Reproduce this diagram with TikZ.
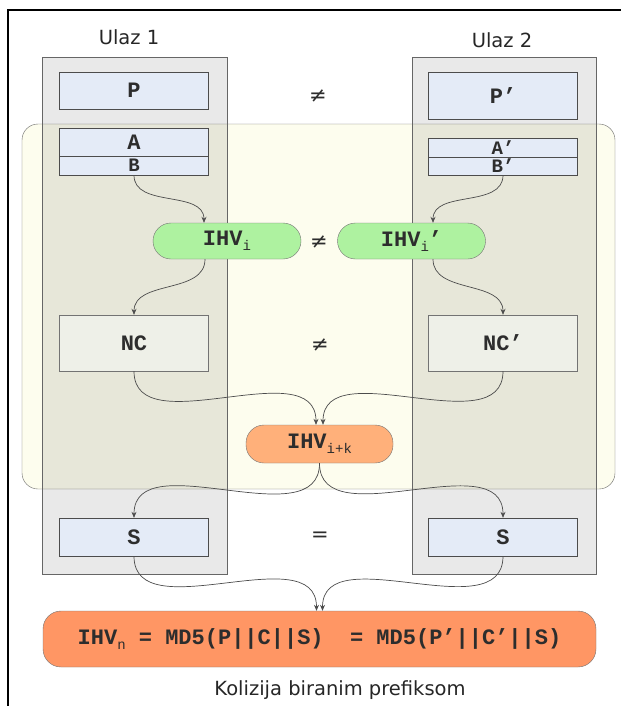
\documentclass[tikz,border=0pt]{standalone}
\usepackage{fontspec}
\setmainfont{DejaVu Sans}
\newfontfamily\monofnt{Liberation Mono}
\usetikzlibrary{arrows.meta}

\definecolor{creamfill}{RGB}{253,253,238}
\definecolor{msgfill}{RGB}{228,235,247}
\definecolor{ncfill}{RGB}{238,240,232}
\definecolor{ihvgreen}{RGB}{174,242,160}
\definecolor{ihvorange}{RGB}{255,176,122}
\definecolor{endorange}{RGB}{255,150,100}
\definecolor{inktext}{RGB}{45,45,45}

\newcommand{\lowidx}[1]{\raisebox{-0.22em}{\fontsize{14}{14}\selectfont\mdseries #1}}

\tikzset{
  zonebox/.style={draw=black!60, fill=creamfill, rounded corners=16pt, inner sep=0pt},
  colbox/.style={draw=black!60, fill=black, fill opacity=0.085, inner sep=0pt},
  msgbox/.style={draw=black!70, fill=msgfill, inner sep=0pt, minimum width=149pt,
    text=inktext, font=\fontsize{22}{22}\monofnt\bfseries},
  thinmsg/.style={msgbox, font=\fontsize{19}{19}\monofnt\bfseries},
  ncbox/.style={msgbox, fill=ncfill, draw=black!55},
  ihvbox/.style={draw=black!55, fill=ihvgreen, rounded corners=18pt, inner sep=0pt,
    minimum width=148pt, minimum height=36pt, text=inktext, font=\fontsize{22}{22}\monofnt\bfseries},
  relsign/.style={text=inktext, font=\fontsize{21}{22}\selectfont},
  inlabel/.style={text=black!85, font=\fontsize{19.5}{20}\selectfont},
  conn/.style={draw=black!70, line width=0.7pt, -{Stealth[length=6pt,width=5pt]}}
}

\begin{document}
\begin{tikzpicture}[x=1pt,y=-1pt]
\useasboundingbox (0,0) rectangle (621,706);
% frame
\draw[line width=2pt] (8,706) -- (8,10) -- (621,10);
% zone and the two inputs
\node[zonebox, minimum width=593pt, minimum height=365pt] (zone) at (318.5,306.5) {};
\node[colbox, minimum width=185pt, minimum height=517pt] (colL) at (134.5,315.5) {};
\node[colbox, minimum width=184pt, minimum height=517pt] (colR) at (504,315.5) {};
\node[inlabel] (ulazL) at (129,37) {Ulaz 1};
\node[inlabel] (ulazR) at (502,40) {Ulaz 2};

% messages
\node[msgbox, minimum height=37pt] (P) at (134,90.5) {P};
\node[msgbox, minimum height=47pt] (Pp) at (503,95.5) {P’};
\node[relsign] (neqP) at (318,96) {≠};
\node[msgbox, minimum height=28pt] (A) at (134,142) {A};
\node[thinmsg, minimum height=19pt] (B) at (134,165.5) {B};
\node[thinmsg, minimum height=19pt] (Ap) at (503,147.5) {A’};
\node[thinmsg, minimum height=18pt] (Bp) at (503,166) {B’};

% intermediate hash values
\node[ihvbox] (IHVi) at (227,241) {IHV\lowidx{i}};
\node[ihvbox] (IHVip) at (411.5,241) {IHV\lowidx{i}’};
\node[relsign] (neqI) at (319,242) {≠};

% near collision blocks
\node[ncbox, minimum height=56pt] (NC) at (134,343) {NC};
\node[ncbox, minimum height=56pt] (NCp) at (503,343) {NC’};
\node[relsign] (neqN) at (320,345) {≠};

\node[ihvbox, fill=ihvorange, minimum width=147pt, minimum height=38pt] (IHVk) at (319.5,444) {IHV\lowidx{i+k}};

% suffix
\node[msgbox, minimum height=38pt] (S) at (134,537) {S};
\node[msgbox, minimum height=38pt] (Sp) at (503,537) {S};
\node[relsign] (eqS) at (320,537) {=};

\node[ihvbox, fill=endorange, minimum width=553pt, minimum height=56pt] (IHVn) at (319.5,639)
  {IHV\lowidx{n} = MD5(P||C||S)\ \ = MD5(P’||C’||S)};
\node[inlabel] (caption) at (340,690) {Kolizija biranim prefiksom};

% connectors
\draw[conn] (B.south) to[out=-90,in=90] ([xshift=-23pt]IHVi.north);
\draw[conn] (Bp.south) to[out=-90,in=90] ([xshift=21.5pt]IHVip.north);
\draw[conn] ([xshift=-22pt]IHVi.south) to[out=-90,in=90] (NC.north);
\draw[conn] ([xshift=21.5pt]IHVip.south) to[out=-90,in=90] (NCp.north);
\draw[conn] (NC.south) to[out=-90,in=90] ([xshift=-3.5pt]IHVk.north);
\draw[conn] (NCp.south) to[out=-90,in=90] ([xshift=3.5pt]IHVk.north);
\draw[conn] (IHVk.south) to[out=-90,in=90] (S.north);
\draw[conn] (IHVk.south) to[out=-90,in=90] (Sp.north);
\draw[conn] (S.south) to[out=-90,in=90] ([xshift=-3pt]IHVn.north);
\draw[conn] (Sp.south) to[out=-90,in=90] ([xshift=3pt]IHVn.north);
\end{tikzpicture}
\end{document}
